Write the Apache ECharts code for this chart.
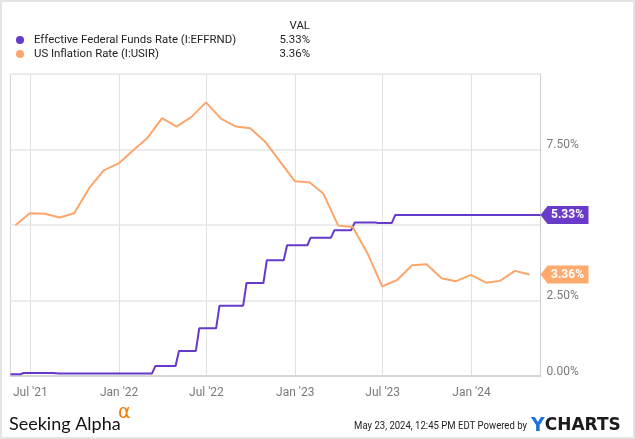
<!DOCTYPE html>
<html>
<head>
<meta charset="utf-8">
<script src="https://cdn.jsdelivr.net/npm/echarts@6/dist/echarts.min.js"></script>
<style>
  html, body { margin: 0; padding: 0; background: #fff; }
  #chart { width: 635px; height: 439px; }
</style>
</head>
<body>
<div id="chart"></div>
<script>
// ---------- DATA ----------
const effrName = 'Effective Federal Funds Rate (I:EFFRND)';
const inflName = 'US Inflation Rate (I:USIR)';

const effrDates = [
  '2021-05-21', '2021-06-10', '2021-06-17', '2021-08-16', '2021-08-30',
  '2022-03-10', '2022-03-17', '2022-04-28', '2022-05-05', '2022-06-09',
  '2022-06-16', '2022-07-21', '2022-07-28', '2022-09-15', '2022-09-22',
  '2022-10-27', '2022-11-03', '2022-12-08', '2022-12-15', '2023-01-26',
  '2023-02-02', '2023-03-16', '2023-03-23', '2023-04-27', '2023-05-04',
  '2023-06-15', '2023-06-22', '2023-07-20', '2023-07-27', '2024-05-23'
];
const effrValues = [
  0.06, 0.06, 0.10, 0.10, 0.08,
  0.08, 0.33, 0.33, 0.83, 0.83,
  1.58, 1.58, 2.33, 2.33, 3.08,
  3.08, 3.83, 3.83, 4.33, 4.33,
  4.58, 4.58, 4.83, 4.83, 5.08,
  5.08, 5.07, 5.07, 5.33, 5.33
];

const inflDates = [
  '2021-05-31', '2021-06-30', '2021-07-31', '2021-08-31', '2021-09-30', '2021-10-31',
  '2021-11-30', '2021-12-31', '2022-01-31', '2022-02-28', '2022-03-31', '2022-04-30',
  '2022-05-31', '2022-06-30', '2022-07-31', '2022-08-31', '2022-09-30', '2022-10-31',
  '2022-11-30', '2022-12-31', '2023-01-31', '2023-02-28', '2023-03-31', '2023-04-30',
  '2023-05-31', '2023-06-30', '2023-07-31', '2023-08-31', '2023-09-30', '2023-10-31',
  '2023-11-30', '2023-12-31', '2024-01-31', '2024-02-29', '2024-03-31', '2024-04-30'
];
const inflValues = [
  4.99, 5.39, 5.37, 5.25, 5.39, 6.22,
  6.81, 7.04, 7.48, 7.87, 8.54, 8.26,
  8.58, 9.06, 8.52, 8.26, 8.20, 7.75,
  7.11, 6.45, 6.41, 6.04, 4.98, 4.93,
  4.05, 2.97, 3.18, 3.67, 3.70, 3.24,
  3.14, 3.35, 3.09, 3.15, 3.48, 3.36
];

const xStart = '2021-05-21';
const xEnd = '2024-05-23';
const xTickDates = ['2021-07-01', '2022-01-01', '2022-07-01', '2023-01-01', '2023-07-01', '2024-01-01'];
const xTickLabels = ["Jul '21", "Jan '22", "Jul '22", "Jan '23", "Jul '23", "Jan '24"];

const yMin = 0, yMax = 10, yStep = 2.5;
const yLabelValues = [0, 2.5, 7.5];

const footerDate = 'May 23, 2024, 12:45 PM EDT Powered by';

// ---------- CHART ----------
const purple = '#6739cb';
const orange = '#fda66b';
const toTs = s => { const p = s.split('-').map(Number); return Date.UTC(p[0], p[1] - 1, p[2]); };
const xTickTs = xTickDates.map(toTs);
const effrLast = effrValues[effrValues.length - 1];
const inflLast = inflValues[inflValues.length - 1];
const lastVal = {};
lastVal[effrName] = effrLast.toFixed(2) + '%';
lastVal[inflName] = inflLast.toFixed(2) + '%';

const tagPath = 'path://M0,9L7,0L48,0L48,18L7,18Z';
function tag(value, color) {
  return {
    symbol: tagPath,
    symbolSize: [48, 18],
    symbolOffset: [24, 0],
    silent: true,
    animation: false,
    data: [{
      coord: [toTs(xEnd), value],
      itemStyle: { color: color },
      label: {
        show: true, position: 'inside', offset: [3, 0],
        formatter: value.toFixed(2) + '%',
        color: '#fff', fontWeight: 'bold', fontSize: 12, fontFamily: 'Roboto'
      }
    }]
  };
}

const chart = echarts.init(document.getElementById('chart'), null, { renderer: 'canvas' });
chart.setOption({
  animation: false,
  backgroundColor: '#fff',
  textStyle: { fontFamily: 'Roboto' },
  grid: {
    left: 10.5, right: 94.5, top: 74, bottom: 63,
    show: true, borderColor: '#d4d4d4', borderWidth: 1
  },
  legend: {
    data: [effrName, inflName],
    orient: 'vertical', left: 16, top: 33, padding: 0,
    icon: 'circle', itemWidth: 18, itemHeight: 8, itemGap: 0,
    selectedMode: false,
    textStyle: {
      fontSize: 11.4, color: '#222', fontFamily: 'Roboto', lineHeight: 14,
      rich: {
        n: { width: 224, fontSize: 11.4, color: '#222', fontFamily: 'Roboto', lineHeight: 14 },
        v: { width: 52, align: 'right', fontSize: 11.4, color: '#222', fontFamily: 'Roboto', lineHeight: 14 }
      }
    },
    formatter: name => '{n|' + name + '}{v|' + lastVal[name] + '}'
  },
  graphic: [
    { type: 'rect', silent: true, shape: { x: 1, y: 1, width: 633, height: 437 },
      style: { fill: 'none', stroke: '#e4e4e4', lineWidth: 2 } },
    { type: 'text', x: 310, y: 26, style: { text: 'VAL', align: 'right', verticalAlign: 'middle',
      fontSize: 11.4, fill: '#222', fontFamily: 'Roboto' } },
    { type: 'text', x: 9, y: 424, style: { text: 'Seeking Alpha', align: 'left', verticalAlign: 'middle',
      fontSize: 18, fill: '#111', fontFamily: 'Lato' } },
    { type: 'text', x: 118, y: 413, style: { text: 'α', align: 'left', verticalAlign: 'middle',
      fontSize: 19, fill: '#f57c00', fontFamily: 'DejaVu Sans' } },
    { type: 'text', x: 527, y: 426, scaleX: 0.83, style: { text: footerDate, align: 'right', verticalAlign: 'middle',
      fontSize: 11.5, fill: '#222', fontFamily: 'Roboto' } },
    { type: 'text', x: 531, y: 426, style: {
      text: '{y|Y}{c|CHARTS}', align: 'left', verticalAlign: 'middle',
      rich: {
        y: { fontSize: 19, fontWeight: 'bold', fill: '#1a73d9', fontFamily: 'DejaVu Sans' },
        c: { fontSize: 17, fontWeight: 'bold', fill: '#1b1b1b', fontFamily: 'DejaVu Sans' }
      } } }
  ],
  xAxis: {
    type: 'value',
    min: toTs(xStart), max: toTs(xEnd),
    axisLine: { show: true, lineStyle: { color: '#d6d6d6', width: 2 } },
    axisTick: { show: false, customValues: xTickTs },
    splitLine: { show: true, lineStyle: { color: '#e2e2e2', width: 1 } },
    axisLabel: {
      customValues: xTickTs,
      margin: 10, fontSize: 12, color: '#7a7a7a', fontFamily: 'Roboto',
      verticalAlign: 'top', lineHeight: 14,
      formatter: v => {
        const i = xTickTs.indexOf(v);
        return i >= 0 ? xTickLabels[i] : '';
      }
    }
  },
  yAxis: {
    type: 'value', position: 'right',
    min: yMin, max: yMax, interval: yStep,
    axisLine: { show: true, lineStyle: { color: '#cfcfcf', width: 1 } },
    axisTick: { show: false },
    splitLine: { show: true, lineStyle: { color: '#ececec', width: 2 } },
    axisLabel: {
      customValues: yLabelValues,
      margin: 6, fontSize: 12, color: '#7a7a7a', fontFamily: 'Roboto',
      verticalAlign: 'bottom', lineHeight: 9,
      formatter: v => v.toFixed(2) + '%'
    }
  },
  series: [
    {
      name: effrName, type: 'line', color: purple,
      showSymbol: false, symbol: 'none',
      lineStyle: { width: 2, color: purple },
      data: effrDates.map((d, i) => [toTs(d), effrValues[i]]),
      markPoint: tag(effrLast, '#6a3ac9'),
      z: 3
    },
    {
      name: inflName, type: 'line', color: orange,
      showSymbol: false, symbol: 'none',
      lineStyle: { width: 2, color: orange },
      data: inflDates.map((d, i) => [toTs(d), inflValues[i]]),
      markPoint: tag(inflLast, '#ffa96c'),
      z: 4
    }
  ]
});
</script>
</body>
</html>
